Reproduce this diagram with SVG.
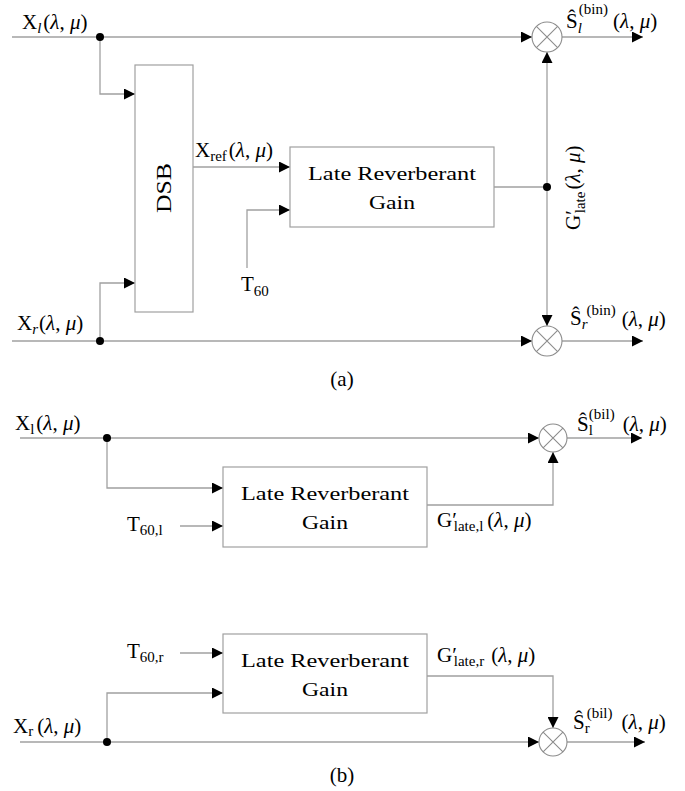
<svg xmlns="http://www.w3.org/2000/svg" width="685" height="791" viewBox="0 0 685 791">
<defs>
<marker id="ah" viewBox="0 0 11 11" refX="11" refY="5.5" markerWidth="11" markerHeight="11" markerUnits="userSpaceOnUse" orient="auto">
<path d="M0,0 L11,5.5 L0,11 z" fill="#000"/>
</marker>
</defs>
<style>
text{font-family:"Liberation Serif","DejaVu Serif",serif;fill:#000}
.m{font-size:21px}
.s{font-size:15px}
.i{font-style:italic}
.box{fill:#fff;stroke:#a0a0a0;stroke-width:1.2}
.ln{fill:none;stroke:#a0a0a0;stroke-width:1.3}
.ar{marker-end:url(#ah)}
.mul{fill:#fff;stroke:#8c8c8c;stroke-width:1.1}
.cx{fill:none;stroke:#8c8c8c;stroke-width:1.1}
.dot{fill:#000}
.bt{font-size:19.5px;text-anchor:middle}
</style>

<g id="connectors">
<path class="ln ar" d="M12,37 H532"/>
<path class="ln ar" d="M100,37 V94 H135"/>
<path class="ln ar" d="M12,341 H532"/>
<path class="ln ar" d="M100,341 V283 H135"/>
<path class="ln ar" d="M193,167 H290"/>
<path class="ln ar" d="M247,268 V210 H290"/>
<path class="ln" d="M494,187 H547"/>
<path class="ln ar" d="M547,187 V52"/>
<path class="ln ar" d="M547,187 V326"/>
<path class="ln ar" d="M562,37 H643"/>
<path class="ln ar" d="M562,341 H643"/>

<path class="ln ar" d="M20,438 H539"/>
<path class="ln ar" d="M107,438 V488 H223"/>
<path class="ln ar" d="M180,526 H223"/>
<path class="ln ar" d="M427,505 H553 V452"/>
<path class="ln ar" d="M567,438 H642"/>

<path class="ln ar" d="M180,653 H223"/>
<path class="ln ar" d="M20,742 H539"/>
<path class="ln ar" d="M107,742 V693 H223"/>
<path class="ln ar" d="M427,676 H553 V728"/>
<path class="ln ar" d="M567,742 H645"/>

<circle class="dot" cx="100" cy="37" r="4"/>
<circle class="dot" cx="100" cy="341" r="4"/>
<circle class="dot" cx="547" cy="187" r="4"/>
<circle class="dot" cx="107" cy="438" r="4"/>
<circle class="dot" cx="107" cy="742" r="4"/>
</g>

<!-- (a) -->
<g id="in_xl_a">
<text class="m" x="22" y="29">X<tspan class="s i" dy="4">l</tspan><tspan dx="2" dy="-4">(<tspan class="i">λ</tspan>, <tspan class="i">μ</tspan>)</tspan></text>
</g>
<g id="in_xr_a">
<text class="m" x="17" y="330">X<tspan class="s i" dy="4">r</tspan><tspan dx="1" dy="-4">(<tspan class="i">λ</tspan>, <tspan class="i">μ</tspan>)</tspan></text>
</g>
<g id="dsb">
<rect class="box" x="135" y="65" width="58" height="247"/>
<text class="m" font-size="22" text-anchor="middle" transform="translate(171,188) rotate(-90)" textLength="50" lengthAdjust="spacingAndGlyphs">DSB</text>
</g>
<g id="xref">
<text class="m" x="195" y="157">X<tspan class="s" dy="4">ref</tspan><tspan dx="2" dy="-4">(<tspan class="i">λ</tspan>, <tspan class="i">μ</tspan>)</tspan></text>
</g>
<g id="lrg_a">
<rect class="box" x="290" y="147" width="204" height="80"/>
<text class="bt" x="392" y="180" textLength="168" lengthAdjust="spacingAndGlyphs">Late Reverberant</text>
<text class="bt" x="392" y="209" textLength="46" lengthAdjust="spacingAndGlyphs">Gain</text>
</g>
<g id="t60_a">
<text class="m" x="241" y="291">T<tspan class="s" dy="5">60</tspan></text>
</g>
<g id="glate_a" transform="translate(580,230) rotate(-90)">
<text class="m" x="0" y="0">G′<tspan class="s" dx="-3" dy="5">late</tspan><tspan dx="2" dy="-5">(<tspan class="i">λ</tspan>, <tspan class="i">μ</tspan>)</tspan></text>
</g>
<g id="mul_l_a">
<circle class="mul" cx="547" cy="37" r="15"/>
<path class="cx" d="M536.4,26.4 L557.6,47.6 M557.6,26.4 L536.4,47.6"/>
</g>
<g id="mul_r_a">
<circle class="mul" cx="547" cy="341" r="15"/>
<path class="cx" d="M536.4,330.4 L557.6,351.6 M557.6,330.4 L536.4,351.6"/>
</g>
<g id="out_l_a">
<text class="m" x="566" y="28">Ŝ<tspan class="s i" dy="5">l</tspan><tspan class="s" dx="-3" dy="-19">(bin)</tspan><tspan dx="5" dy="14">(<tspan class="i">λ</tspan>, <tspan class="i">μ</tspan>)</tspan></text>
</g>
<g id="out_r_a">
<text class="m" x="570" y="325">Ŝ<tspan class="s i" dy="4">r</tspan><tspan class="s" dx="-1" dy="-14">(bin)</tspan><tspan dx="6" dy="11">(<tspan class="i">λ</tspan>, <tspan class="i">μ</tspan>)</tspan></text>
</g>
<text id="cap_a" class="m" x="342" y="386" text-anchor="middle">(a)</text>

<!-- (b) top -->
<g id="in_xl_b">
<text class="m" x="15" y="430">X<tspan class="s" dy="4">l</tspan><tspan dx="2" dy="-4">(<tspan class="i">λ</tspan>, <tspan class="i">μ</tspan>)</tspan></text>
</g>
<g id="t60l_b">
<text class="m" x="127" y="531">T<tspan class="s" dy="4">60,l</tspan></text>
</g>
<g id="lrg_bl">
<rect class="box" x="223" y="467" width="204" height="80"/>
<text class="bt" x="325" y="500" textLength="168" lengthAdjust="spacingAndGlyphs">Late Reverberant</text>
<text class="bt" x="325" y="529" textLength="46" lengthAdjust="spacingAndGlyphs">Gain</text>
</g>
<g id="glate_bl">
<text class="m" x="437" y="527">G′<tspan class="s" dx="-3" dy="4">late,l</tspan><tspan dx="4" dy="-4">(<tspan class="i">λ</tspan>, <tspan class="i">μ</tspan>)</tspan></text>
</g>
<g id="mul_l_b">
<circle class="mul" cx="553" cy="438" r="14"/>
<path class="cx" d="M543.1,428.1 L562.9,447.9 M562.9,428.1 L543.1,447.9"/>
</g>
<g id="out_l_b">
<text class="m" x="577" y="431">Ŝ<tspan class="s" dy="4">l</tspan><tspan class="s" dx="-4" dy="-16">(bil)</tspan><tspan dx="8" dy="12">(<tspan class="i">λ</tspan>, <tspan class="i">μ</tspan>)</tspan></text>
</g>

<!-- (b) bottom -->
<g id="t60r_b">
<text class="m" x="127" y="658">T<tspan class="s" dy="4">60,r</tspan></text>
</g>
<g id="lrg_br">
<rect class="box" x="223" y="634" width="204" height="79"/>
<text class="bt" x="325" y="667" textLength="168" lengthAdjust="spacingAndGlyphs">Late Reverberant</text>
<text class="bt" x="325" y="696" textLength="46" lengthAdjust="spacingAndGlyphs">Gain</text>
</g>
<g id="in_xr_b">
<text class="m" x="13" y="733">X<tspan class="s" dy="3">r</tspan><tspan dx="4" dy="-3">(<tspan class="i">λ</tspan>, <tspan class="i">μ</tspan>)</tspan></text>
</g>
<g id="glate_br">
<text class="m" x="437" y="662">G′<tspan class="s" dx="-3" dy="4">late,r</tspan><tspan dx="7" dy="-4">(<tspan class="i">λ</tspan>, <tspan class="i">μ</tspan>)</tspan></text>
</g>
<g id="mul_r_b">
<circle class="mul" cx="553" cy="742" r="14"/>
<path class="cx" d="M543.1,732.1 L562.9,751.9 M562.9,732.1 L543.1,751.9"/>
</g>
<g id="out_r_b">
<text class="m" x="573" y="729">Ŝ<tspan class="s" dy="4">r</tspan><tspan class="s" dx="-3" dy="-15">(bil)</tspan><tspan dx="9" dy="11">(<tspan class="i">λ</tspan>, <tspan class="i">μ</tspan>)</tspan></text>
</g>
<text id="cap_b" class="m" x="342" y="782" text-anchor="middle">(b)</text>
</svg>
